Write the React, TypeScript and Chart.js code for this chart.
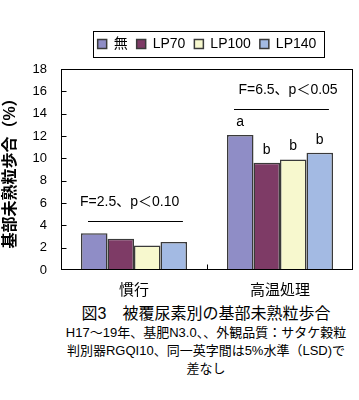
import React, { useEffect, useRef } from "react";
import { Chart, registerables } from "chart.js";

Chart.register(...registerables);

const FONT = "'Liberation Sans', 'Noto Sans CJK JP', sans-serif";

// ---- data ----
const categories = ["慣行", "高温処理"];
const seriesNames = ["無", "LP70", "LP100", "LP140"];
const valuesNone = [3.3, 12.1];
const valuesLP70 = [2.8, 9.6];
const valuesLP100 = [2.2, 9.9];
const valuesLP140 = [2.5, 10.5];
const seriesColors = ["#8F8DC6", "#7E3B66", "#F7F8CE", "#A3BAE3"];
const yMin = 0;
const yMax = 18;
const yStep = 2;
const yAxisTitle = "基部未熟粒歩合（%）";
const statTexts = ["F=2.5、p＜0.10", "F=6.5、p＜0.05"];
const statLineLevels = [4.4, 14.4];
const statTextLevels = [6.1, 16.1];
const statTextCatOffset = [-0.03, 0.055];
const letterNone = ["", "a"];
const letterLP70 = ["", "b"];
const letterLP100 = ["", "b"];
const letterLP140 = ["", "b"];
const captionTitle = "図3　被覆尿素別の基部未熟粒歩合";
const captionLines = [
  "H17～19年、基肥N3.0、、外観品質：サタケ穀粒",
  "判別器RGQI10、同一英字間は5%水準（LSD)で",
  "差なし",
];

const seriesValues = [valuesNone, valuesLP70, valuesLP100, valuesLP140];
const seriesLetters = [letterNone, letterLP70, letterLP100, letterLP140];
const CAT_PCT = 0.726;

const decorPlugin = {
  id: "decor",
  afterDraw(chart: any) {
    const ctx = chart.ctx;
    const area = chart.chartArea;
    const xs = chart.scales.x;
    const ys = chart.scales.y;
    ctx.save();
    // frame
    ctx.strokeStyle = "#000";
    ctx.lineWidth = 1;
    const l = Math.round(area.left) + 0.5;
    const r = Math.round(area.right) - 0.5;
    const t = Math.round(area.top) + 0.5;
    const b = Math.round(area.bottom) - 0.5;
    ctx.strokeRect(l, t, r - l, b - t);
    // inward y ticks
    ctx.beginPath();
    for (let v = yMin + yStep; v < yMax; v += yStep) {
      const y = Math.round(ys.getPixelForValue(v)) + 0.5;
      ctx.moveTo(l, y);
      ctx.lineTo(l + 5, y);
    }
    // category boundary ticks
    for (let i = 0; i < categories.length - 1; i++) {
      const x = Math.round((xs.getPixelForValue(i) + xs.getPixelForValue(i + 1)) / 2) + 0.5;
      ctx.moveTo(x, b);
      ctx.lineTo(x, b - 5);
    }
    ctx.stroke();

    // stats annotations
    const catW = xs.getPixelForValue(1) - xs.getPixelForValue(0);
    ctx.font = "14px " + FONT;
    ctx.fillStyle = "#000";
    ctx.textAlign = "center";
    ctx.textBaseline = "middle";
    statTexts.forEach((txt, i) => {
      const cx = xs.getPixelForValue(i);
      const ly = Math.round(ys.getPixelForValue(statLineLevels[i])) + 0.5;
      ctx.beginPath();
      ctx.moveTo(cx - catW * 0.315, ly);
      ctx.lineTo(cx + catW * 0.335, ly);
      ctx.stroke();
      ctx.fillText(txt, xs.getPixelForValue(i + statTextCatOffset[i]), ys.getPixelForValue(statTextLevels[i]));
    });

    // significance letters
    ctx.textBaseline = "alphabetic";
    seriesLetters.forEach((letters, d) => {
      const meta = chart.getDatasetMeta(d);
      letters.forEach((s, i) => {
        if (!s) return;
        const el = meta.data[i];
        ctx.fillText(s, el.x, el.y - 9);
      });
    });

    // legend border
    const lg = chart.legend;
    if (lg && lg.legendHitBoxes && lg.legendHitBoxes.length) {
      const hb = lg.legendHitBoxes;
      let minL = Infinity, maxR = -Infinity, top = Infinity;
      hb.forEach((h: any) => {
        minL = Math.min(minL, h.left);
        maxR = Math.max(maxR, h.left + h.width);
        top = Math.min(top, h.top);
      });
      const bl = Math.round(minL - 5) + 0.5;
      const br = Math.round(maxR + 8) + 0.5;
      const bt = Math.round(top - 6) + 0.5;
      const bb = Math.round(top + 20) + 0.5;
      ctx.strokeRect(bl, bt, br - bl, bb - bt);
    }
    ctx.restore();
  },
};

function ChartCanvas() {
  const ref = useRef<HTMLCanvasElement | null>(null);
  useEffect(() => {
    if (!ref.current) return;
    Chart.defaults.font.family = FONT;
    Chart.defaults.color = "#000";
    const chart = new Chart(ref.current, {
      type: "bar",
      data: {
        labels: categories,
        datasets: seriesNames.map((name, i) => ({
          label: name,
          data: seriesValues[i],
          backgroundColor: seriesColors[i],
          borderColor: "#3a3a3a",
          borderWidth: 1.5,
          categoryPercentage: CAT_PCT,
          barPercentage: 1.0,
        })),
      },
      options: {
        animation: false,
        responsive: false,
        devicePixelRatio: 1,
        layout: { padding: { top: 28, right: 6, left: 0, bottom: 0 } },
        plugins: {
          tooltip: { enabled: false },
          title: { display: false },
          legend: {
            display: true,
            position: "top",
            fullSize: false,
            labels: {
              boxWidth: 9,
              boxHeight: 9,
              padding: 9,
              font: { size: 14 },
              color: "#000",
            },
          },
        },
        scales: {
          x: {
            type: "category",
            position: "bottom",
            grid: { display: false, drawTicks: false },
            border: { display: false },
            ticks: { font: { size: 15 }, color: "#000", padding: 12 },
            afterFit: (s: any) => {
              s.height = 30;
            },
          },
          xTop: {
            type: "category",
            axis: "x",
            position: "top",
            display: true,
            grid: { display: false, drawTicks: false },
            border: { display: false },
            ticks: { display: false },
            afterFit: (s: any) => {
              s.height = 8;
            },
          },
          y: {
            type: "linear",
            min: yMin,
            max: yMax,
            grid: { display: false, drawTicks: false },
            border: { display: false },
            ticks: { stepSize: yStep, font: { size: 13 }, color: "#000", padding: 14 },
            title: {
              display: true,
              text: yAxisTitle,
              font: { size: 16, weight: "bold" },
              color: "#000",
              padding: { top: 1, bottom: 0 },
            },
            afterFit: (s: any) => {
              s.width = 61;
            },
          },
        },
      } as any,
      plugins: [decorPlugin],
    });
    return () => chart.destroy();
  }, []);
  return <canvas ref={ref} width={359} height={300} style={{ display: "block", width: 359, height: 300 }} />;
}

export default function App() {
  const lineStyle: React.CSSProperties = {
    position: "absolute",
    left: 56,
    width: 300,
    height: 18,
    lineHeight: "18px",
    textAlign: "center",
    whiteSpace: "nowrap",
    fontFamily: FONT,
    color: "#000",
  };
  return (
    <div style={{ position: "absolute", left: 0, top: 0, width: 359, height: 400, background: "#fff", overflow: "hidden" }}>
      <ChartCanvas />
      <div style={{ ...lineStyle, top: 305, fontSize: 16 }}>{captionTitle}</div>
      {captionLines.map((s, i) => (
        <div key={i} style={{ ...lineStyle, top: 323.5 + i * 18, fontSize: 13 }}>
          {s}
        </div>
      ))}
    </div>
  );
}
